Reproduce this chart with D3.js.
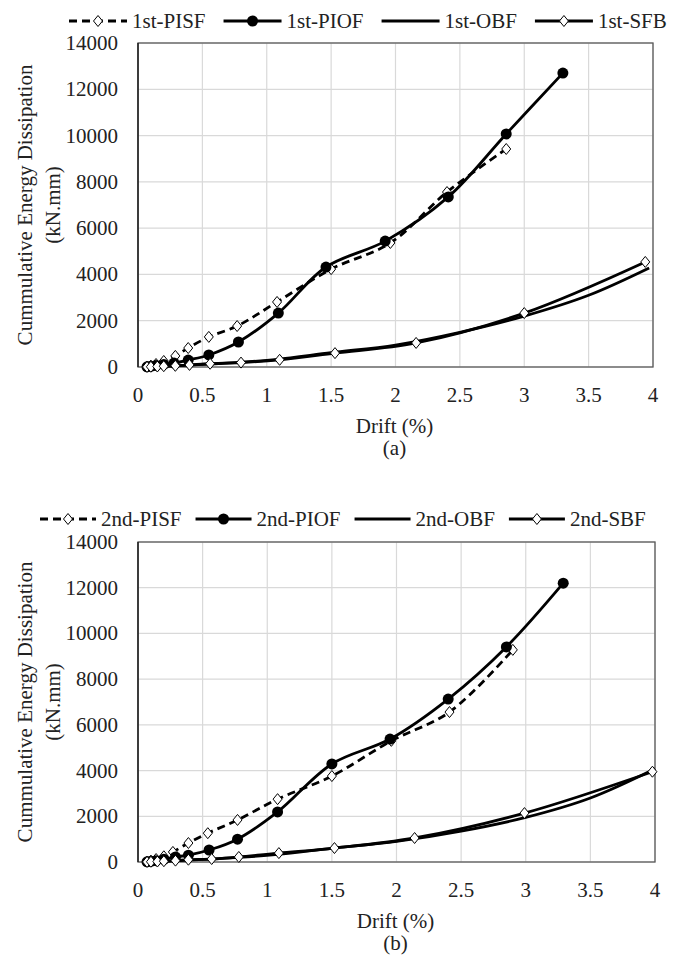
<!DOCTYPE html>
<html>
<head>
<meta charset="utf-8">
<script src="https://cdn.jsdelivr.net/npm/d3@7"></script>
<style>
  body { margin: 0; background: #fff; }
  svg text { font-family: "Liberation Serif", "DejaVu Serif", serif; }
</style>
</head>
<body>
<svg id="chart" width="673" height="956"></svg>
<script>
// datos
const xTicks = [0, 0.5, 1, 1.5, 2, 2.5, 3, 3.5, 4];
const yTicks = [0, 2000, 4000, 6000, 8000, 10000, 12000, 14000];

// (a) primer piso
const pisf1Drift = [0.07, 0.1, 0.14, 0.2, 0.29, 0.39, 0.55, 0.77, 1.08, 1.5, 1.96, 2.4, 2.86];
const pisf1Energy = [20, 60, 130, 260, 480, 820, 1300, 1770, 2810, 4230, 5360, 7560, 9420];
const piof1Drift = [0.07, 0.1, 0.14, 0.2, 0.28, 0.39, 0.55, 0.78, 1.09, 1.46, 1.92, 2.41, 2.86, 3.3];
const piof1Energy = [10, 30, 60, 110, 170, 300, 520, 1080, 2330, 4320, 5440, 7350, 10070, 12700];
const obf1Drift = [0.07, 0.1, 0.14, 0.2, 0.28, 0.39, 0.55, 0.78, 1.08, 1.5, 2.0, 2.5, 3.0, 3.5, 3.97];
const obf1Energy = [5, 10, 20, 30, 50, 80, 130, 200, 330, 620, 950, 1500, 2200, 3100, 4280];
const sfb1Drift = [0.07, 0.1, 0.15, 0.2, 0.29, 0.4, 0.56, 0.8, 1.1, 1.53, 2.16, 3.0, 3.94];
const sfb1Energy = [5, 10, 20, 35, 50, 90, 140, 190, 310, 600, 1040, 2330, 4540];

// (b) segundo piso
const pisf2Drift = [0.07, 0.1, 0.14, 0.2, 0.27, 0.39, 0.54, 0.77, 1.08, 1.5, 1.96, 2.41, 2.9];
const pisf2Energy = [20, 60, 130, 250, 440, 830, 1260, 1840, 2750, 3760, 5300, 6560, 9280];
const piof2Drift = [0.07, 0.1, 0.14, 0.2, 0.29, 0.39, 0.55, 0.77, 1.08, 1.5, 1.95, 2.4, 2.85, 3.29];
const piof2Energy = [10, 30, 60, 120, 220, 300, 525, 1000, 2190, 4290, 5380, 7130, 9410, 12200];
const obf2Drift = [0.07, 0.1, 0.14, 0.2, 0.28, 0.39, 0.55, 0.78, 1.08, 1.5, 2.0, 2.5, 3.0, 3.5, 4.0];
const obf2Energy = [5, 10, 20, 30, 50, 80, 130, 200, 330, 600, 900, 1350, 1950, 2800, 4080];
const sfb2Drift = [0.07, 0.1, 0.15, 0.2, 0.29, 0.39, 0.57, 0.78, 1.09, 1.52, 2.14, 2.99, 3.98];
const sfb2Energy = [5, 10, 20, 35, 60, 100, 130, 220, 390, 610, 1050, 2140, 3950];

const svg = d3.select("#chart");
const fontSize = 21;
const serif = "'Liberation Serif', 'DejaVu Serif', serif";

function zip(xs, ys) {
  return xs.map((x, i) => ({ x: x, y: ys[i] }));
}

function diamondPath(cx, cy, w, h) {
  return `M${cx},${cy - h}L${cx + w},${cy}L${cx},${cy + h}L${cx - w},${cy}Z`;
}

function addText(sel, size) {
  return sel.append("text")
    .attr("font-family", serif)
    .attr("font-size", size || fontSize)
    .attr("fill", "#222")
    .attr("dominant-baseline", "central");
}

function drawPanel(p) {
  const g = svg.append("g");
  const x = d3.scaleLinear().domain([0, 4]).range([p.left, p.left + p.width]);
  const y = d3.scaleLinear().domain([0, 14000]).range([p.top + p.height, p.top]);

  // rejilla
  g.append("g").selectAll("line").data(xTicks).enter().append("line")
    .attr("x1", d => x(d)).attr("x2", d => x(d))
    .attr("y1", p.top).attr("y2", p.top + p.height)
    .attr("stroke", "#d9d9d9").attr("stroke-width", 1.2);
  g.append("g").selectAll("line").data(yTicks).enter().append("line")
    .attr("x1", p.left).attr("x2", p.left + p.width)
    .attr("y1", d => y(d)).attr("y2", d => y(d))
    .attr("stroke", "#d9d9d9").attr("stroke-width", 1.2);

  g.append("rect")
    .attr("x", p.left).attr("y", p.top)
    .attr("width", p.width).attr("height", p.height)
    .attr("fill", "none").attr("stroke", "#595959").attr("stroke-width", 1.3);
  g.append("line")
    .attr("x1", p.left).attr("x2", p.left)
    .attr("y1", p.top).attr("y2", p.top + p.height)
    .attr("stroke", "#111").attr("stroke-width", 1.3);

  // etiquetas de ejes
  yTicks.forEach((t) => {
    addText(g).attr("x", p.left - 20).attr("y", y(t))
      .attr("text-anchor", "end").text(t);
  });
  xTicks.forEach((t) => {
    addText(g).attr("x", x(t)).attr("y", p.top + p.height + 28)
      .attr("text-anchor", "middle").text(t);
  });

  const midX = p.left + p.width / 2;
  addText(g).attr("x", midX - 1).attr("y", p.top + p.height + 59)
    .attr("text-anchor", "middle").text("Drift (%)");
  addText(g).attr("x", midX - 1).attr("y", p.top + p.height + 81)
    .attr("text-anchor", "middle").text(p.label);

  const midY = p.top + p.height / 2;
  addText(g).attr("transform", `translate(25,${midY}) rotate(-90)`)
    .attr("text-anchor", "middle").text("Cummulative Energy Dissipation");
  addText(g).attr("transform", `translate(53,${midY}) rotate(-90)`)
    .attr("text-anchor", "middle").text("(kN.mm)");

  const line = d3.line()
    .x(d => x(d.x)).y(d => y(d.y))
    .curve(d3.curveCatmullRom.alpha(0.5));

  const plot = g.append("g");
  p.series.forEach((s) => {
    const pts = zip(s.drift, s.energy);
    plot.append("path")
      .datum(pts)
      .attr("d", line)
      .attr("fill", "none")
      .attr("stroke", "#000")
      .attr("stroke-width", 2.8)
      .attr("stroke-dasharray", s.dashed ? "8,5" : null);
    if (s.marker === "circle") {
      plot.append("g").selectAll("circle").data(pts).enter().append("circle")
        .attr("cx", d => x(d.x)).attr("cy", d => y(d.y))
        .attr("r", 5.5).attr("fill", "#000");
    } else if (s.marker === "diamond") {
      plot.append("g").selectAll("path").data(pts).enter().append("path")
        .attr("d", d => diamondPath(x(d.x), y(d.y), 4.5, 5.5))
        .attr("fill", "#fff").attr("stroke", "#000").attr("stroke-width", 1);
    }
  });

  // leyenda: posiciones según el ancho de cada texto
  const leg = g.append("g");
  let x0 = p.legendStart;
  const ly = p.legendY;
  p.series.forEach((s) => {
    leg.append("line")
      .attr("x1", x0).attr("x2", x0 + p.legendLine)
      .attr("y1", ly).attr("y2", ly)
      .attr("stroke", "#000").attr("stroke-width", 2.8)
      .attr("stroke-dasharray", s.dashed ? "8,5" : null);
    const cx = x0 + p.legendLine / 2;
    if (s.marker === "circle") {
      leg.append("circle").attr("cx", cx).attr("cy", ly).attr("r", 5.5).attr("fill", "#000");
    } else if (s.marker === "diamond") {
      leg.append("path").attr("d", diamondPath(cx, ly, 4.5, 5.5))
        .attr("fill", "#fff").attr("stroke", "#000").attr("stroke-width", 1);
    }
    const txt = addText(leg).attr("x", x0 + p.legendLine + 5).attr("y", ly).text(s.name);
    x0 += p.legendLine + 5 + txt.node().getComputedTextLength() + p.legendGap;
  });
}

drawPanel({
  left: 138, top: 43, width: 515, height: 324, label: "(a)",
  legendY: 21, legendStart: 69, legendLine: 58, legendGap: 18,
  series: [
    { name: "1st-PISF", drift: pisf1Drift, energy: pisf1Energy, dashed: true, marker: "diamond" },
    { name: "1st-PIOF", drift: piof1Drift, energy: piof1Energy, dashed: false, marker: "circle" },
    { name: "1st-OBF", drift: obf1Drift, energy: obf1Energy, dashed: false, marker: null },
    { name: "1st-SFB", drift: sfb1Drift, energy: sfb1Energy, dashed: false, marker: "diamond" }
  ]
});

drawPanel({
  left: 138, top: 542, width: 517, height: 320, label: "(b)",
  legendY: 519, legendStart: 40, legendLine: 56, legendGap: 14,
  series: [
    { name: "2nd-PISF", drift: pisf2Drift, energy: pisf2Energy, dashed: true, marker: "diamond" },
    { name: "2nd-PIOF", drift: piof2Drift, energy: piof2Energy, dashed: false, marker: "circle" },
    { name: "2nd-OBF", drift: obf2Drift, energy: obf2Energy, dashed: false, marker: null },
    { name: "2nd-SBF", drift: sfb2Drift, energy: sfb2Energy, dashed: false, marker: "diamond" }
  ]
});
</script>
</body>
</html>
